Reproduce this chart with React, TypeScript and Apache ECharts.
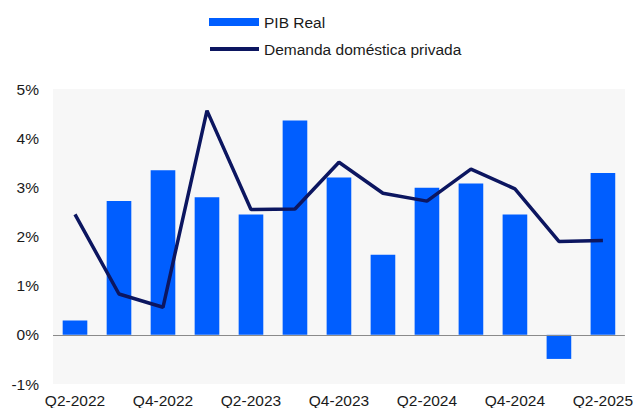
import React, { useEffect, useRef } from "react";
import * as echarts from "echarts";

const categories = [
  "Q2-2022", "Q3-2022", "Q4-2022", "Q1-2023", "Q2-2023", "Q3-2023", "Q4-2023",
  "Q1-2024", "Q2-2024", "Q3-2024", "Q4-2024", "Q1-2025", "Q2-2025",
];
const pibReal = [0.29, 2.72, 3.35, 2.8, 2.45, 4.36, 3.2, 1.63, 2.99, 3.08, 2.45, -0.49, 3.29];
const demandaPrivada = [2.45, 0.83, 0.56, 4.56, 2.55, 2.56, 3.51, 2.88, 2.72, 3.37, 2.97, 1.9, 1.92];
const yTicks = { min: -1, max: 5, interval: 1 };

const FONT = "'Liberation Sans', Arial, sans-serif";
const FS = 15.5;
const LINE_ICON = "path://M0,0L0.01,0M1,2L50,2L50,6L1,6ZM49.99,8L50,8";

export default function App() {
  const ref = useRef<HTMLDivElement>(null);
  useEffect(() => {
    document.body.style.margin = "0";
    if (!ref.current) return;
    const chart = echarts.init(ref.current, undefined, { renderer: "svg" });
    chart.setOption({
      animation: false,
      textStyle: { fontFamily: FONT },
      legend: {
        orient: "vertical",
        left: 204,
        top: 9,
        itemWidth: 50,
        itemHeight: 8,
        itemGap: 11,
        textStyle: { fontFamily: FONT, fontSize: FS, color: "#1a1a1a" },
        data: [
          { name: "PIB Real", icon: "rect" },
          { name: "Demanda doméstica privada", icon: LINE_ICON, itemStyle: { color: "#0c1660" } },
        ],
      },
      grid: {
        left: 53,
        right: 9,
        top: 89,
        bottom: 24,
        show: true,
        backgroundColor: "#f7f7f7",
        borderWidth: 0,
      },
      xAxis: {
        type: "category",
        data: categories,
        axisLine: { show: false },
        axisTick: { show: false },
        axisLabel: {
          interval: 1,
          fontFamily: FONT,
          fontSize: FS,
          color: "#1a1a1a",
          margin: 8,
        },
      },
      yAxis: {
        type: "value",
        min: yTicks.min,
        max: yTicks.max,
        interval: yTicks.interval,
        splitLine: { show: false },
        axisLine: { show: false },
        axisTick: { show: false },
        axisLabel: {
          formatter: (v: number) => `${v}%`,
          fontFamily: FONT,
          fontSize: FS,
          color: "#1a1a1a",
          margin: 14,
        },
      },
      series: [
        {
          name: "PIB Real",
          type: "bar",
          data: pibReal,
          barWidth: "56%",
          itemStyle: { color: "#005eff" },
          markLine: {
            silent: true,
            symbol: "none",
            label: { show: false },
            lineStyle: { color: "#8a8a8a", width: 1, type: "solid" },
            data: [{ yAxis: 0 }],
          },
        },
        {
          name: "Demanda doméstica privada",
          type: "line",
          data: demandaPrivada,
          symbol: "none",
          lineStyle: { color: "#0c1660", width: 3.5 },
          itemStyle: { color: "#0c1660" },
        },
      ],
    });
    return () => chart.dispose();
  }, []);
  return <div ref={ref} style={{ width: 636, height: 408 }} />;
}
